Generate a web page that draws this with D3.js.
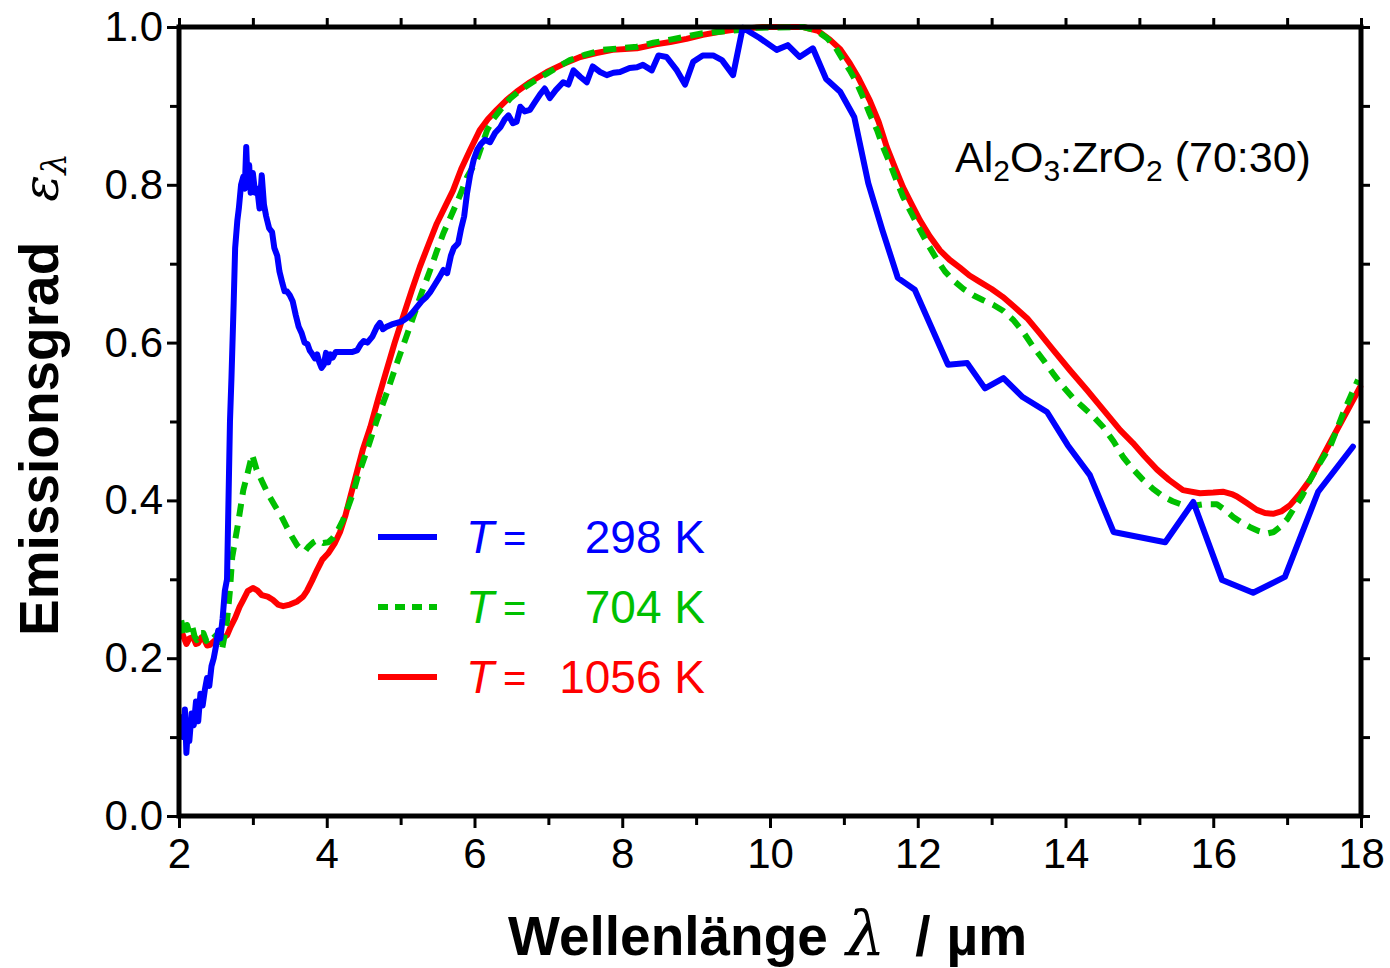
<!doctype html>
<html>
<head>
<meta charset="utf-8">
<title>Emissionsgrad Al2O3:ZrO2</title>
<script src="https://cdn.jsdelivr.net/npm/d3@7"></script>
<style>
  body { margin: 0; background: #fff; }
  text { font-family: "Liberation Sans", Arial, Helvetica, sans-serif; }
</style>
</head>
<body>
<script>
// wavelength (µm) and emissivity
var wl298 = [2.03,2.06,2.08,2.10,2.12,2.14,2.17,2.20,2.23,2.26,2.29,2.32,2.35,2.38,2.41,2.44,2.47,2.50,2.53,2.56,2.59,2.62,2.65,2.67,2.69,2.71,2.74,2.76,2.79,2.81,2.84,2.87,2.89,2.91,2.93,2.95,2.97,3.00,3.03,3.06,3.09,3.12,3.15,3.18,3.22,3.26,3.29,3.33,3.36,3.40,3.43,3.46,3.50,3.54,3.58,3.62,3.66,3.70,3.74,3.77,3.80,3.84,3.87,3.90,3.93,3.96,3.99,4.02,4.05,4.08,4.12,4.18,4.26,4.34,4.41,4.46,4.50,4.55,4.62,4.68,4.72,4.76,4.81,4.88,4.95,5.02,5.10,5.16,5.22,5.28,5.34,5.40,5.46,5.52,5.58,5.63,5.68,5.72,5.78,5.82,5.86,5.90,5.94,5.99,6.04,6.09,6.14,6.21,6.28,6.35,6.41,6.46,6.52,6.57,6.62,6.68,6.75,6.82,6.89,6.95,7.02,7.10,7.20,7.27,7.34,7.43,7.52,7.60,7.70,7.79,7.88,7.97,8.10,8.20,8.28,8.40,8.49,8.60,8.74,8.85,8.96,9.09,9.23,9.35,9.50,9.63,9.86,10.09,10.24,10.40,10.58,10.76,10.95,11.14,11.33,11.52,11.73,11.96,12.41,12.67,12.91,13.16,13.42,13.75,14.03,14.33,14.65,15.35,15.73,16.12,16.54,16.97,17.42,17.89];
var eps298 = [0.125,0.10,0.135,0.08,0.11,0.095,0.13,0.115,0.145,0.12,0.155,0.14,0.16,0.175,0.165,0.19,0.20,0.215,0.235,0.225,0.25,0.285,0.30,0.40,0.50,0.555,0.65,0.72,0.755,0.77,0.80,0.81,0.795,0.848,0.80,0.825,0.79,0.815,0.79,0.795,0.77,0.812,0.775,0.76,0.745,0.74,0.72,0.71,0.69,0.675,0.665,0.665,0.66,0.652,0.635,0.62,0.612,0.60,0.598,0.59,0.586,0.58,0.585,0.575,0.568,0.572,0.587,0.575,0.585,0.581,0.588,0.588,0.588,0.588,0.59,0.598,0.602,0.60,0.608,0.62,0.625,0.617,0.62,0.623,0.625,0.627,0.632,0.638,0.645,0.652,0.657,0.664,0.673,0.682,0.692,0.688,0.71,0.72,0.726,0.745,0.76,0.79,0.812,0.832,0.845,0.852,0.857,0.854,0.866,0.873,0.883,0.888,0.878,0.88,0.899,0.893,0.895,0.905,0.915,0.922,0.91,0.92,0.93,0.927,0.945,0.937,0.93,0.95,0.943,0.939,0.942,0.943,0.948,0.949,0.952,0.945,0.964,0.962,0.945,0.927,0.956,0.964,0.964,0.958,0.939,0.999,0.986,0.971,0.977,0.962,0.973,0.934,0.918,0.886,0.802,0.743,0.682,0.667,0.572,0.574,0.542,0.555,0.531,0.512,0.47,0.432,0.36,0.347,0.398,0.299,0.283,0.303,0.411,0.468];

var wl704 = [2.03,2.06,2.08,2.11,2.14,2.18,2.21,2.24,2.28,2.33,2.37,2.42,2.46,2.51,2.55,2.58,2.62,2.65,2.69,2.72,2.80,2.87,2.93,2.99,3.05,3.12,3.20,3.30,3.39,3.46,3.53,3.60,3.66,3.71,3.75,3.82,3.88,3.95,4.02,4.08,4.15,4.22,4.29,4.36,4.42,4.55,4.68,4.82,4.95,5.06,5.17,5.28,5.40,5.49,5.58,5.67,5.76,5.83,5.90,6.03,6.17,6.26,6.35,6.48,6.62,6.80,6.98,7.14,7.29,7.50,7.74,7.97,8.20,8.42,8.65,8.87,9.09,9.32,9.55,9.80,10.45,10.62,10.77,10.88,10.99,11.08,11.17,11.26,11.35,11.45,11.53,11.62,11.71,11.80,11.92,12.03,12.14,12.26,12.37,12.48,12.62,12.75,12.88,13.02,13.16,13.29,13.43,13.56,13.70,13.83,13.97,14.10,14.24,14.38,14.51,14.65,14.78,14.91,15.05,15.18,15.32,15.45,15.59,15.72,15.86,16.05,16.16,16.27,16.38,16.50,16.62,16.73,16.82,16.90,17.00,17.08,17.20,17.31,17.44,17.58,17.67,17.76,17.86,17.96];
var eps704 = [0.248,0.235,0.228,0.242,0.232,0.24,0.228,0.223,0.232,0.232,0.222,0.226,0.232,0.227,0.22,0.21,0.23,0.248,0.286,0.328,0.371,0.413,0.435,0.458,0.439,0.425,0.409,0.393,0.379,0.366,0.354,0.343,0.337,0.336,0.341,0.347,0.35,0.346,0.347,0.352,0.362,0.375,0.392,0.41,0.43,0.465,0.502,0.538,0.574,0.603,0.632,0.662,0.692,0.716,0.739,0.758,0.777,0.793,0.81,0.831,0.869,0.884,0.895,0.909,0.92,0.931,0.941,0.95,0.958,0.965,0.971,0.973,0.975,0.98,0.984,0.988,0.992,0.994,0.996,0.999,1.0,0.996,0.986,0.975,0.958,0.945,0.93,0.911,0.89,0.869,0.848,0.828,0.806,0.785,0.763,0.743,0.724,0.705,0.69,0.679,0.668,0.66,0.654,0.648,0.64,0.629,0.613,0.595,0.578,0.561,0.544,0.53,0.518,0.506,0.493,0.475,0.455,0.44,0.426,0.415,0.405,0.399,0.394,0.393,0.395,0.395,0.388,0.379,0.372,0.366,0.361,0.358,0.36,0.366,0.376,0.388,0.405,0.426,0.447,0.468,0.489,0.511,0.532,0.553];

var wl1056 = [2.03,2.07,2.10,2.14,2.19,2.23,2.26,2.30,2.34,2.38,2.42,2.48,2.55,2.60,2.65,2.70,2.76,2.82,2.87,2.93,3.00,3.06,3.12,3.20,3.27,3.34,3.41,3.50,3.60,3.68,3.73,3.80,3.87,3.94,4.02,4.11,4.18,4.25,4.32,4.38,4.49,4.59,4.70,4.81,4.92,5.03,5.15,5.26,5.38,5.49,5.60,5.71,5.82,5.94,6.07,6.18,6.30,6.43,6.57,6.75,6.98,7.20,7.43,7.65,7.87,8.20,8.45,8.65,8.87,9.09,9.32,9.55,9.90,10.45,10.65,10.81,10.95,11.08,11.20,11.35,11.47,11.58,11.70,11.80,11.92,12.03,12.16,12.30,12.43,12.57,12.70,12.84,13.00,13.15,13.31,13.48,13.65,13.83,14.06,14.29,14.51,14.74,14.91,15.07,15.24,15.40,15.59,15.82,16.00,16.13,16.25,16.32,16.45,16.59,16.70,16.81,16.92,17.04,17.17,17.31,17.46,17.62,17.80,17.99];
var eps1056 = [0.235,0.225,0.218,0.225,0.227,0.218,0.219,0.226,0.224,0.216,0.217,0.222,0.221,0.226,0.229,0.24,0.251,0.265,0.274,0.285,0.289,0.286,0.28,0.278,0.274,0.268,0.266,0.268,0.272,0.278,0.285,0.298,0.312,0.325,0.333,0.346,0.36,0.38,0.405,0.426,0.465,0.493,0.53,0.565,0.60,0.632,0.666,0.696,0.725,0.751,0.772,0.793,0.82,0.844,0.869,0.883,0.895,0.907,0.918,0.93,0.943,0.953,0.962,0.967,0.971,0.973,0.978,0.981,0.985,0.99,0.994,0.997,1.0,1.0,0.995,0.984,0.972,0.954,0.935,0.907,0.88,0.848,0.82,0.797,0.775,0.755,0.735,0.717,0.705,0.695,0.685,0.677,0.668,0.658,0.645,0.631,0.612,0.591,0.565,0.54,0.515,0.489,0.473,0.456,0.439,0.426,0.413,0.409,0.41,0.411,0.408,0.405,0.397,0.388,0.384,0.383,0.386,0.394,0.408,0.426,0.452,0.48,0.511,0.544];

var xMajor = [2, 4, 6, 8, 10, 12, 14, 16, 18];
var xMinor = [3, 5, 7, 9, 11, 13, 15, 17];
var yMajor = [0, 0.2, 0.4, 0.6, 0.8, 1.0];
var yMinor = [0.1, 0.3, 0.5, 0.7, 0.9];

var temps = ['298', '704', '1056'];
var colors = ['#0000ff', '#00c000', '#ff0000'];

var W = 1390, H = 968;
var pLeft = 179, pRight = 1361, pTop = 27, pBottom = 816;

var svg = d3.select('body').append('svg')
    .attr('width', W)
    .attr('height', H);

var x = d3.scaleLinear().domain([2, 18]).range([pLeft, pRight]);
var y = d3.scaleLinear().domain([0, 1]).range([pBottom, pTop]);

var series = [
    {t: temps[0], wl: wl298, eps: eps298, color: colors[0], dash: null},
    {t: temps[1], wl: wl704, eps: eps704, color: colors[1], dash: '13,9'},
    {t: temps[2], wl: wl1056, eps: eps1056, color: colors[2], dash: null}
];

var line = d3.line()
    .x(function(d){ return x(d[0]); })
    .y(function(d){ return y(d[1]); });

// red first, then green, blue on top
[series[2], series[1], series[0]].forEach(function(s){
    var pts = s.wl.map(function(v, i){ return [v, s.eps[i]]; });
    svg.append('path')
        .datum(pts)
        .attr('d', line)
        .attr('fill', 'none')
        .attr('stroke', s.color)
        .attr('stroke-width', 6)
        .attr('stroke-linejoin', 'round')
        .attr('stroke-linecap', s.dash ? 'butt' : 'round')
        .attr('stroke-dasharray', s.dash);
});

// axes: major + minor, mirrored on all four sides, ticks outward
function styleAxis(g, fontSize){
    g.select('.domain').remove();
    g.selectAll('.tick line').attr('stroke', '#000').attr('stroke-width', 3);
    g.selectAll('.tick text')
        .attr('font-size', fontSize)
        .attr('font-family', '"Liberation Sans", Arial, sans-serif')
        .attr('fill', '#000');
}

svg.append('g').attr('transform', 'translate(0,' + pBottom + ')')
    .call(d3.axisBottom(x).tickValues(xMajor).tickSize(12).tickPadding(10).tickFormat(d3.format('d')))
    .call(function(g){ styleAxis(g, 42); });
svg.append('g').attr('transform', 'translate(0,' + pBottom + ')')
    .call(d3.axisBottom(x).tickValues(xMinor).tickSize(9).tickFormat(''))
    .call(function(g){ styleAxis(g, 0); });
svg.append('g').attr('transform', 'translate(0,' + pTop + ')')
    .call(d3.axisTop(x).tickValues(xMajor.concat(xMinor)).tickSize(9).tickFormat(''))
    .call(function(g){ styleAxis(g, 0); });

svg.append('g').attr('transform', 'translate(' + pLeft + ',0)')
    .call(d3.axisLeft(y).tickValues(yMajor).tickSize(12).tickPadding(4).tickFormat(d3.format('.1f')))
    .call(function(g){ styleAxis(g, 42); });
svg.append('g').attr('transform', 'translate(' + pLeft + ',0)')
    .call(d3.axisLeft(y).tickValues(yMinor).tickSize(9).tickFormat(''))
    .call(function(g){ styleAxis(g, 0); });
svg.append('g').attr('transform', 'translate(' + pRight + ',0)')
    .call(d3.axisRight(y).tickValues(yMajor.concat(yMinor)).tickSize(9).tickFormat(''))
    .call(function(g){ styleAxis(g, 0); });

// frame
svg.append('rect')
    .attr('x', pLeft).attr('y', pTop)
    .attr('width', pRight - pLeft).attr('height', pBottom - pTop)
    .attr('fill', 'none')
    .attr('stroke', '#000')
    .attr('stroke-width', 5);

// axis titles
var xt = svg.append('text')
    .attr('x', 508).attr('y', 955)
    .attr('font-size', 55).attr('font-weight', 'bold');
xt.append('tspan').text('Wellenlänge');
xt.append('tspan').attr('dx', 18).attr('font-family', '"DejaVu Serif", serif').attr('font-style', 'italic')
    .attr('font-weight', 'normal').attr('font-size', 62).text('λ');
xt.append('tspan').attr('dx', 30).text('/');
xt.append('tspan').attr('dx', 16).text('µm');

var yt = svg.append('text')
    .attr('transform', 'translate(58,636) rotate(-90)')
    .attr('font-size', 55).attr('font-weight', 'bold');
yt.append('tspan').text('Emissionsgrad');
yt.append('tspan').attr('dx', 40).attr('font-family', '"DejaVu Serif", serif').attr('font-style', 'italic')
    .attr('font-weight', 'normal').attr('font-size', 50).text('ε');
yt.append('tspan').attr('font-family', '"DejaVu Serif", serif').attr('font-style', 'italic')
    .attr('font-weight', 'normal').attr('font-size', 34).attr('dy', 8).text('λ');

// sample annotation
var ann = svg.append('text')
    .attr('x', 955).attr('y', 172)
    .attr('font-size', 43);
ann.append('tspan').text('Al');
ann.append('tspan').attr('font-size', 30).attr('dy', 9).text('2');
ann.append('tspan').attr('dy', -9).text('O');
ann.append('tspan').attr('font-size', 30).attr('dy', 9).text('3');
ann.append('tspan').attr('dy', -9).text(':ZrO');
ann.append('tspan').attr('font-size', 30).attr('dy', 9).text('2');
ann.append('tspan').attr('dy', -9).text(' (70:30)');

// legend
var legY = [537, 607, 677];
series.forEach(function(s, i){
    svg.append('line')
        .attr('x1', 378).attr('x2', 437)
        .attr('y1', legY[i]).attr('y2', legY[i])
        .attr('stroke', s.color)
        .attr('stroke-width', 6)
        .attr('stroke-dasharray', s.dash ? '10,7' : null);
    svg.append('text')
        .attr('x', 466).attr('y', legY[i] + 16)
        .attr('font-size', 46).attr('font-style', 'italic')
        .attr('fill', s.color).text('T');
    svg.append('text')
        .attr('x', 503).attr('y', legY[i] + 15)
        .attr('font-size', 40)
        .attr('fill', s.color).text('=');
    svg.append('text')
        .attr('x', 705).attr('y', legY[i] + 16)
        .attr('text-anchor', 'end')
        .attr('font-size', 46)
        .attr('fill', s.color).text(s.t + ' K');
});
</script>
</body>
</html>
